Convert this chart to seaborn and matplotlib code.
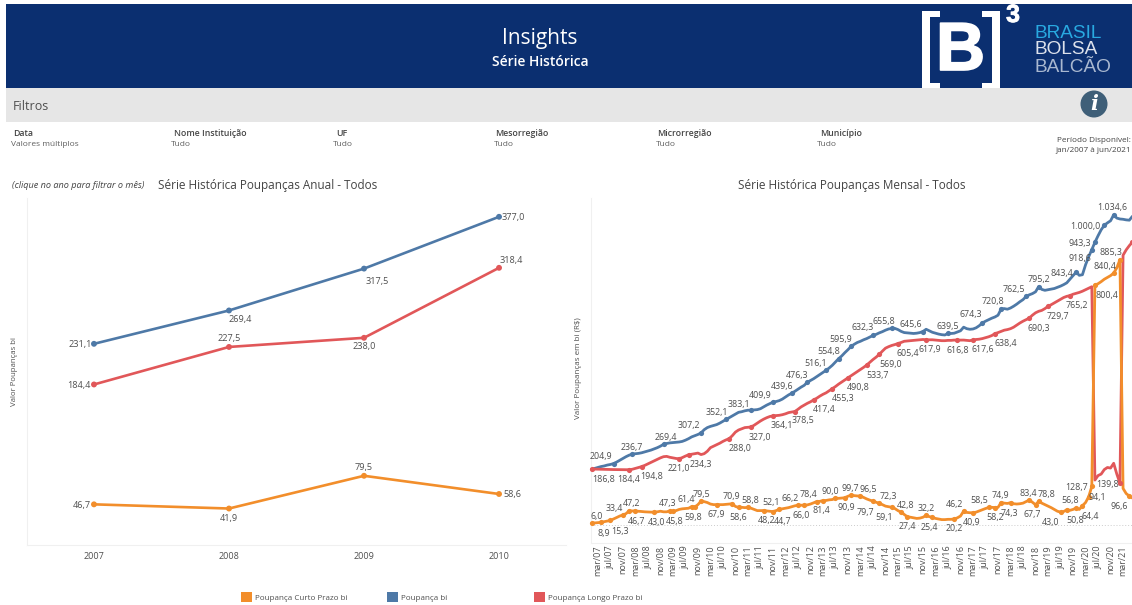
import pandas as pd
import matplotlib
matplotlib.use("Agg")
import matplotlib.pyplot as plt
import matplotlib.patheffects as pe
from matplotlib.patches import Rectangle, Circle
import seaborn as sns

# annual chart
anos = [2007, 2008, 2009, 2010]
anual_total = [231.1, 269.4, 317.5, 377.0]
anual_longo = [184.4, 227.5, 238.0, 318.4]
anual_curto = [46.7, 41.9, 79.5, 58.6]

# monthly chart, jan/07 to jun/21
mensal_total = [
    186.8, 189, 192, 195, 197, 200, 202, 204.9, 210, 216, 222, 228,
    233, 236.7, 238, 239, 241, 244, 247, 250, 254, 258, 263, 269.4,
    272, 274, 275, 276, 277, 279, 283, 288, 294, 298, 302, 307.2,
    318, 325, 329, 332, 335, 340, 346, 352.1, 358, 364, 370, 376,
    378, 381, 383, 383.1, 384, 385, 388, 394, 400, 405, 409.9, 412,
    415, 420, 427, 434, 439.6, 446, 453, 460, 466, 476.3, 482, 488,
    495, 502, 509, 516.1, 524, 533, 544, 554.8, 564, 575, 585, 595.9,
    603, 609, 613, 618, 622, 627, 632.3, 636, 641, 645, 650, 654,
    655.8, 656, 652, 646, 642, 641, 640, 639, 640, 642, 645.6, 653,
    648, 643, 640, 637, 635, 634, 639.5, 639, 640, 644, 648, 660,
    655, 653, 654, 658, 665, 674.3, 680, 685, 690, 694, 700, 720.8,
    722, 720, 724, 730, 737, 745, 752, 762.5, 768, 772, 778, 795.2,
    786, 783, 785, 787, 789, 793, 797, 802, 808, 820, 832, 843.4,
    833, 835, 868, 895, 918.6, 943.3, 965, 985, 1000.0, 1008, 1015, 1034.6,
    1024, 1021, 1020, 1018, 1017, 1030,
]
mensal_longo = [
    186.8, 186.5, 186, 186, 185.5, 185, 185, 185, 184.8, 184.7, 184.6, 184.5,
    184.4, 186, 189, 192, 194.8, 199, 204, 209, 214, 219, 224, 228,
    229, 226, 224, 222, 221.0, 225, 230, 234.3, 236, 238, 240, 235,
    238, 246, 258, 263, 268, 273, 279, 284, 288.0, 298, 310, 317,
    321, 325, 326, 327.0, 333, 340, 347, 353, 358, 362, 364.1, 365,
    366, 368, 371, 375, 377, 378.5, 386, 394, 400, 406, 411, 417.4,
    423, 430, 436, 441, 448, 455.3, 462, 470, 477, 484, 490.8, 498,
    505, 512, 519, 526, 533.7, 543, 552, 560, 569.0, 580, 590, 595,
    599, 602, 605.4, 609, 613, 614, 615, 616, 617, 618, 619, 617.9,
    618, 618, 617, 616, 615, 615, 616, 616, 617, 616.8, 617, 617,
    616, 615, 617.6, 619, 620, 622, 625, 628, 632, 638.4, 642, 646,
    650, 652, 655, 660, 667, 674, 680, 685, 690.3, 700, 708, 713,
    716, 722, 729.7, 735, 741, 747, 753, 759, 763, 765.2, 770, 773,
    776, 780, 785, 790, 795, 150, 165, 170, 185, 192, 190, 206,
    170, 139.8, 900, 918, 932, 944.0,
]
mensal_curto = [
    6.0, 7, 8, 8.9, 11, 13, 15.3, 20, 25, 30, 33.4, 38,
    47.2, 47, 46.7, 46, 45, 44, 43.5, 43, 43.0, 44, 46, 44,
    44, 47.3, 45.8, 48, 52, 54, 55, 56, 61.4, 59.8, 68, 79.5,
    78, 75, 70, 68, 67.9, 68, 68, 69, 70, 70.9, 62, 58.6,
    59, 58, 58.8, 56, 52, 48, 48, 48.2, 47, 46, 44.7, 48,
    52.1, 54, 56, 58, 61, 64, 66.2, 66, 66.0, 67, 70, 74,
    78.4, 79, 81.4, 82, 84, 85, 90.0, 89, 90, 90.9, 96, 99.7,
    98, 97, 96.5, 92, 87, 83, 79.7, 76, 72.3, 68, 63, 61,
    59.1, 55, 48, 42.8, 35, 27.4, 26, 24, 22, 23, 26, 32.2,
    28, 25.4, 22, 20, 18, 18, 19, 19, 20.2, 24, 30, 46.2,
    42, 41, 40.9, 43, 47, 51, 55, 58.5, 59, 58.2, 59, 74.9,
    73, 72, 74.3, 71, 70, 71, 73, 78, 83.4, 76, 67.7, 78.8,
    73, 68, 63, 58, 52, 46, 43.0, 45, 50.8, 49, 52, 56.8,
    52, 64.4, 75, 94.1, 128.7, 800.4, 805, 812, 820, 826, 832, 840.4,
    858, 885.3, 122, 105, 96.6, 90,
]
meses_curtos = ["mar", "jul", "nov"]
tick_labels = [f"{m}/{a:02d}" for a in range(7, 21) for m in meses_curtos] + ["mar/21"]

series_names = ["Poupança Curto Prazo bi", "Poupança bi", "Poupança Longo Prazo bi"]
filtros = ["Data", "Nome Instituição", "UF", "Mesorregião", "Microrregião", "Município"]
filtros_valor = ["Valores múltiplos", "Tudo", "Tudo", "Tudo", "Tudo", "Tudo"]

# labelled points: month index, x and y offset of the text in pixels
rotulos_total = [(7, -13, 8), (13, 0, 8), (23, 2, 8), (35, -12, 8), (43, -9, 8), (51, -12, 7),
                 (58, -13, 8), (64, -10, 8), (69, -10, 8), (75, -10, 8), (79, -10, 8), (83, -10, 8),
                 (90, -10, 9), (96, -8, 8), (106, -12, 8), (114, 0, 8), (125, -12, 9), (131, -8, 8),
                 (139, -12, 8), (143, 0, 8), (155, -14, 0), (160, -12, -8), (161, -15, 0),
                 (164, -19, 0), (167, -1, 8)]
rotulos_longo = [(0, 12, -9), (12, 0, -9), (16, 10, -9), (28, 0, -9), (31, 12, -9), (44, 11, -9),
                 (51, 9, -9), (58, 9, -9), (65, 8, -8), (71, 11, -9), (77, 11, -9), (82, 10, -9),
                 (88, 11, -9), (92, 11, -9), (98, 10, -9), (107, 4, -9), (117, 0, -9), (122, 10, -9),
                 (129, 11, -9), (140, 9, -9), (146, 10, -9), (153, 7, -9), (169, -12, 0), (173, -11, 8)]
rotulos_curto = [(0, 5, 8), (10, -9, 8), (12, 2, 8), (25, -2, 8), (32, -5, 8), (35, 0, 8), (45, -1, 8),
                 (50, 2, 8), (60, -8, 8), (66, -8, 8), (72, -8, 8), (78, -5, 8), (83, -1, 8), (86, 8, 8),
                 (92, 9, 8), (99, 5, 8), (107, 0, 8), (119, -9, 8), (127, -9, 8), (131, -1, 8),
                 (140, -1, 8), (143, 8, 8), (155, -6, 8), (160, -15, 0),
                 (3, 3, -10), (6, 10, -10), (14, 1, -9), (20, 2, -9), (26, 2, -9), (33, -2, -9),
                 (40, 0, -9), (47, 0, -9), (55, 3, -9), (58, 10, -9), (68, -3, -9), (74, -2, -9),
                 (81, 1, -9), (90, -8, -10), (96, -8, -9), (101, 0, -9), (109, -3, -9), (116, 0, -9),
                 (122, -1, -9), (129, 0, -9), (134, -1, -10), (142, -3, -9), (150, -10, -9),
                 (152, 8, -10), (157, 8, -10), (159, 9, 0), (172, -10, -9),
                 (161, 12, -9), (167, -9, 8), (169, -9, 8)]

AZUL = "#4E79A7"
LARANJA = "#F28E2B"
VERMELHO = "#E15759"
palette = {series_names[0]: LARANJA, series_names[1]: AZUL, series_names[2]: VERMELHO}
TEXTO = "#4F4F4F"
FONTE = ["Open Sans", "DejaVu Sans"]

sns.set_theme(style="white")
plt.rcParams["font.family"] = FONTE

W, H = 1132, 605
fig = plt.figure(figsize=(W / 100, H / 100), dpi=100, facecolor="white")


def px_axes(x0, y0, x1, y1):
    return fig.add_axes([x0 / W, 1 - y1 / H, (x1 - x0) / W, (y1 - y0) / H])


def fmt(v):
    s = f"{v:,.1f}"
    return s.replace(",", "#").replace(".", ",").replace("#", ".")


# page furniture in pixel coordinates
bg = fig.add_axes([0, 0, 1, 1], zorder=0)
bg.set_xlim(0, W)
bg.set_ylim(H, 0)
bg.axis("off")
bg.add_patch(Rectangle((6, 4), W - 6, 84, color="#0B2F70", lw=0))
bg.add_patch(Rectangle((6, 88), W - 6, 34, color="#E6E6E6", lw=0))
bg.text(540, 38.5, "Insights", color="white", fontsize=15, ha="center", va="center")
bg.text(540, 61.5, "Série Histórica", color="white", fontsize=10, ha="center", va="center", fontweight="semibold")
bg.text(13, 106.5, "Filtros", color=TEXTO, fontsize=9, va="center")

# logo
grosso = [pe.withStroke(linewidth=1.2, foreground="white")]
for x0, x1, x_bar in [(922, 940, 922), (982, 999, 992)]:
    bg.add_patch(Rectangle((x_bar, 11), 7.5, 77, color="white", lw=0))
    bg.add_patch(Rectangle((x0, 11), x1 - x0, 6, color="white", lw=0))
    bg.add_patch(Rectangle((x0, 83), x1 - x0, 5, color="white", lw=0))
bg.text(960.5, 52, "B", color="white", fontsize=49, fontweight="bold", family="Liberation Sans",
        ha="center", va="center", path_effects=grosso)
bg.text(1013, 15, "3", color="white", fontsize=18, fontweight="bold", family="Liberation Sans",
        ha="center", va="center", path_effects=[pe.withStroke(linewidth=0.6, foreground="white")])
bg.text(1034, 33, "BRASIL", color="#29A9E1", fontsize=13.7, family="Liberation Sans", va="center")
bg.text(1034, 50, "BOLSA", color="#DDE2EC", fontsize=13.7, family="Liberation Sans", va="center")
bg.text(1034, 67.5, "BALCÃO", color="#A9B8D0", fontsize=13.7, family="Liberation Sans", va="center")

# info icon
bg.add_patch(Circle((1094, 104), 13.5, color="#3F5F78", lw=0))
bg.text(1094, 104, "i", color="white", fontsize=15, fontweight="bold", style="italic",
        family="DejaVu Serif", ha="center", va="center")

# filter row
for nome, valor, xn, xv in zip(filtros, filtros_valor, [13, 174, 336, 495, 657, 820], [11, 171, 333, 494, 656, 817]):
    bg.text(xn, 133, nome, color="#444444", fontsize=6.3, fontweight="semibold", va="center")
    bg.text(xv, 145, valor, color="#5F5F5F", fontsize=6, va="center")
bg.text(1131, 141, "Período Disponível:", color="#444444", fontsize=5.9, ha="right", va="center")
bg.text(1131, 151, "jan/2007 à jun/2021", color="#444444", fontsize=5.9, ha="right", va="center")

bg.text(12, 185.5, "(clique no ano para filtrar o mês)", color="#444444", fontsize=6.6, style="italic", va="center")
bg.text(158, 185.5, "Série Histórica Poupanças Anual - Todos", color="#444444", fontsize=8.5, va="center")
bg.text(852, 185.5, "Série Histórica Poupanças Mensal - Todos", color="#444444", fontsize=8.5, ha="center", va="center")
bg.text(15, 372, "Valor Poupanças bi", color=TEXTO, fontsize=5.6, rotation=90, ha="center", va="center")
bg.text(579, 368, "Valor Poupanças em bi (R$)", color=TEXTO, fontsize=5.8, rotation=90, ha="center", va="center")

# legend
for nome, cor, xs, xt in zip(series_names, [LARANJA, AZUL, VERMELHO], [241, 387, 534], [255, 401, 548]):
    bg.add_patch(Rectangle((xs, 592), 11, 10, color=cor, lw=0))
    bg.text(xt, 598, nome, color=TEXTO, fontsize=5.75, va="center")

# annual chart
anual = pd.DataFrame({"ano": anos, series_names[0]: anual_curto, series_names[1]: anual_total,
                      series_names[2]: anual_longo}).melt("ano", var_name="serie", value_name="valor")
ax1 = px_axes(27, 198, 566, 545)
ax1.patch.set_alpha(0)
sns.lineplot(data=anual, x="ano", y="valor", hue="serie", palette=palette, linewidth=1.9,
             errorbar=None, legend=False, ax=ax1)
sns.scatterplot(data=anual, x="ano", y="valor", hue="serie", palette=palette, s=18, linewidth=0,
                legend=False, ax=ax1, zorder=3)
ax1.set_xlim(2006.504, 2010.496)
ax1.set_ylim(0, 398.6)
ax1.set_xticks(anos)
ax1.set_yticks([])
ax1.set_xlabel("")
ax1.set_ylabel("")
ax1.tick_params(axis="x", length=0, labelsize=6.5, labelcolor=TEXTO, pad=5)
offsets_anual = {
    series_names[1]: [(-14, 0), (11, -8), (13, -12), (14, 0)],
    series_names[2]: [(-15, 0), (0, 9), (0, -8), (12, 8)],
    series_names[0]: [(-12, 0), (0, -9), (0, 9), (13, 0)],
}
for nome, valores in zip(series_names, [anual_curto, anual_total, anual_longo]):
    for ano, v, off in zip(anos, valores, offsets_anual[nome]):
        ax1.annotate(fmt(v), (ano, v), xytext=(off[0], off[1] - 1), textcoords="offset pixels", color=TEXTO,
                     fontsize=6.6, ha="center", va="center")

# monthly chart
mes = list(range(len(mensal_total)))
mensal = pd.DataFrame({"mes": mes, series_names[1]: mensal_total, series_names[2]: mensal_longo,
                       series_names[0]: mensal_curto}).melt("mes", var_name="serie", value_name="valor")
ax2 = px_axes(590.7, 198, 1131.5, 542.7)
ax2.patch.set_alpha(0)
sns.lineplot(data=mensal, x="mes", y="valor", hue="serie", palette=palette, linewidth=2.0,
             errorbar=None, legend=False, ax=ax2, clip_on=False)
ax2.axhline(0, color="#CCCCCC", lw=0.7, ls=(0, (1, 2)), zorder=0)
ax2.set_xlim(-0.3, 172.7)
ax2.set_ylim(-59, 1091)
ax2.set_xticks(list(range(2, 174, 4)))
ax2.set_xticklabels(tick_labels, rotation=90)
ax2.set_yticks([])
ax2.set_xlabel("")
ax2.set_ylabel("")
ax2.tick_params(axis="x", length=0, labelsize=6.5, labelcolor=TEXTO, pad=2)

for valores, rotulos, nome in [(mensal_total, rotulos_total, series_names[1]),
                               (mensal_longo, rotulos_longo, series_names[2]),
                               (mensal_curto, rotulos_curto, series_names[0])]:
    idx = [r[0] for r in rotulos]
    pontos = pd.DataFrame({"mes": idx, "valor": [valores[i] for i in idx]})
    sns.scatterplot(data=pontos, x="mes", y="valor", color=palette[nome], s=14, linewidth=0,
                    ax=ax2, zorder=3, clip_on=False)
    for i, dx, dy in rotulos:
        ax2.annotate(fmt(valores[i]), (i, valores[i]), xytext=(dx, dy - 1), textcoords="offset pixels",
                     color=TEXTO, fontsize=6.4, ha="center", va="center", zorder=4)
ax2.set_xlabel("")
ax2.set_ylabel("")

for ax in [ax1, ax2]:
    for lado in ["top", "right"]:
        ax.spines[lado].set_visible(False)
    for lado in ["left", "bottom"]:
        ax.spines[lado].set_color("#F0F0F0")
        ax.spines[lado].set_linewidth(0.8)

fig.savefig("out.png", dpi=100)
